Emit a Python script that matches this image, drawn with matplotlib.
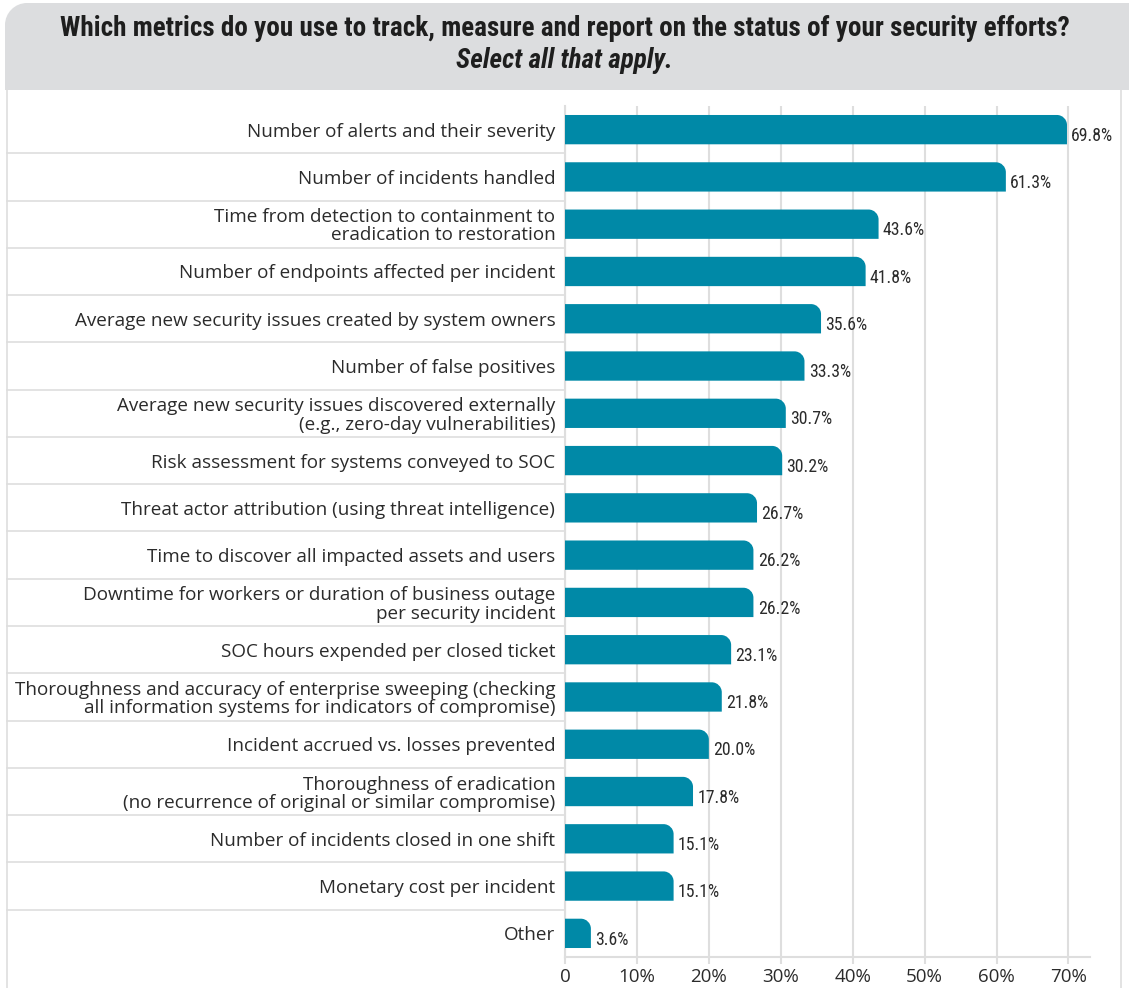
import matplotlib
matplotlib.use("Agg")
import matplotlib.pyplot as plt
from matplotlib.path import Path
from matplotlib.patches import PathPatch
from matplotlib.lines import Line2D
from matplotlib import font_manager

categories = [
    "Number of alerts and their severity",
    "Number of incidents handled",
    "Time from detection to containment to\neradication to restoration",
    "Number of endpoints affected per incident",
    "Average new security issues created by system owners",
    "Number of false positives",
    "Average new security issues discovered externally\n(e.g., zero-day vulnerabilities)",
    "Risk assessment for systems conveyed to SOC",
    "Threat actor attribution (using threat intelligence)",
    "Time to discover all impacted assets and users",
    "Downtime for workers or duration of business outage\nper security incident",
    "SOC hours expended per closed ticket",
    "Thoroughness and accuracy of enterprise sweeping (checking\nall information systems for indicators of compromise)",
    "Incident accrued vs. losses prevented",
    "Thoroughness of eradication\n(no recurrence of original or similar compromise)",
    "Number of incidents closed in one shift",
    "Monetary cost per incident",
    "Other",
]
values = [69.8, 61.3, 43.6, 41.8, 35.6, 33.3, 30.7, 30.2, 26.7, 26.2, 26.2, 23.1, 21.8, 20.0, 17.8, 15.1, 15.1, 3.6]
tick_values = [0, 10, 20, 30, 40, 50, 60, 70]
tick_labels = ["0", "10%", "20%", "30%", "40%", "50%", "60%", "70%"]
title_line1 = "Which metrics do you use to track, measure and report on the status of your security efforts?"
title_line2 = "Select all that apply."

available = {f.name for f in font_manager.fontManager.ttflist}
def pick(*names):
    for n in names:
        if n in available:
            return n
    return "DejaVu Sans"

label_font = pick("Open Sans", "Noto Sans", "Lato")
narrow_font = pick("Roboto Condensed", "Liberation Sans Narrow", "Open Sans")

W, H = 1129, 988
fig = plt.figure(figsize=(W / 100, H / 100), dpi=100)

BAR = "#0089a7"
GRID = "#dedede"
TXT = "#2b2b2b"

def fx(p):
    return p / W
def fy(p):
    return 1 - p / H

# Title band (rounded top-left corner only)
r = 22
k = 0.5523
bx0, by0, bx1, by1 = 5, 3, W + 2, 90
verts = [
    (fx(bx0), fy(by1)), (fx(bx0), fy(by0 + r)),
    (fx(bx0), fy(by0 + r - k * r)), (fx(bx0 + r - k * r), fy(by0)), (fx(bx0 + r), fy(by0)),
    (fx(bx1), fy(by0)), (fx(bx1), fy(by1)), (fx(bx0), fy(by1)),
]
codes = [Path.MOVETO, Path.LINETO, Path.CURVE4, Path.CURVE4, Path.CURVE4,
         Path.LINETO, Path.LINETO, Path.CLOSEPOLY]
fig.patches.append(PathPatch(Path(verts, codes), transform=fig.transFigure,
                             facecolor="#dcdddf", edgecolor="none", zorder=0))
fig.text(0.5, fy(28), title_line1, ha="center", va="center", fontsize=19.5,
         fontweight="bold", family=narrow_font, color="#1e1e1e")
fig.text(0.5, fy(61), title_line2, ha="center", va="center", fontsize=19.5,
         fontweight="bold", style="italic", family=narrow_font, color="#1e1e1e")

# Frame lines
fig.add_artist(Line2D([fx(7), fx(7)], [0, fy(90)], transform=fig.transFigure, color=GRID, lw=1.2))
fig.add_artist(Line2D([fx(1121), fx(1121)], [0, fy(90)], transform=fig.transFigure, color=GRID, lw=1.2))

ax_left, ax_right = 565 / W, 1090 / W
ax_top, ax_bot = fy(106), fy(957)
ax = fig.add_axes([ax_left, ax_bot, ax_right - ax_left, ax_top - ax_bot])
n = len(categories)
ax.set_xlim(0, 73)
ax.set_ylim(n - 0.5, -0.5)

px_x = 73 / (1090 - 565)
px_y = n / (957 - 106)
rx, ry = 10 * px_x, 10 * px_y
bh = 0.62

for i, v in enumerate(values):
    top = i - bh / 2
    bot = i + bh / 2
    r_x = min(rx, v)
    verts = [
        (0, bot), (0, top), (v - r_x, top),
        (v - r_x + k * r_x, top), (v, top + ry - k * ry), (v, top + ry),
        (v, bot), (0, bot),
    ]
    codes = [Path.MOVETO, Path.LINETO, Path.LINETO,
             Path.CURVE4, Path.CURVE4, Path.CURVE4,
             Path.LINETO, Path.CLOSEPOLY]
    ax.add_patch(PathPatch(Path(verts, codes), facecolor=BAR, edgecolor="none", zorder=3))
    ax.text(v + 0.6, i + 0.13, f"{v:.1f}%", ha="left", va="center", fontsize=12.8,
            family=narrow_font, color=TXT, zorder=4)

for t in tick_values:
    ax.axvline(t, color=GRID, lw=1.5, zorder=1)

for j in range(n - 1):
    yb = j + 0.5
    yfig = ax_top - (yb + 0.5) / n * (ax_top - ax_bot)
    fig.add_artist(Line2D([fx(7), ax_left], [yfig, yfig], transform=fig.transFigure, color=GRID, lw=1.2))

ax.set_yticks(range(n))
ax.set_yticklabels(categories, fontsize=13.6, family=label_font, color=TXT, linespacing=1.02)
ax.tick_params(axis="y", length=0, pad=7)
ax.set_xticks(tick_values)
ax.set_xticklabels(tick_labels, fontsize=13.5, family=label_font, color=TXT)
ax.tick_params(axis="x", length=5, color=GRID, width=1.5, pad=3)
for s in ["top", "right"]:
    ax.spines[s].set_visible(False)
ax.spines["left"].set_color(GRID)
ax.spines["left"].set_linewidth(1.5)
ax.spines["bottom"].set_color(GRID)
ax.spines["bottom"].set_linewidth(1.5)
ax.set_facecolor("none")

fig.savefig("out.png", dpi=100)
